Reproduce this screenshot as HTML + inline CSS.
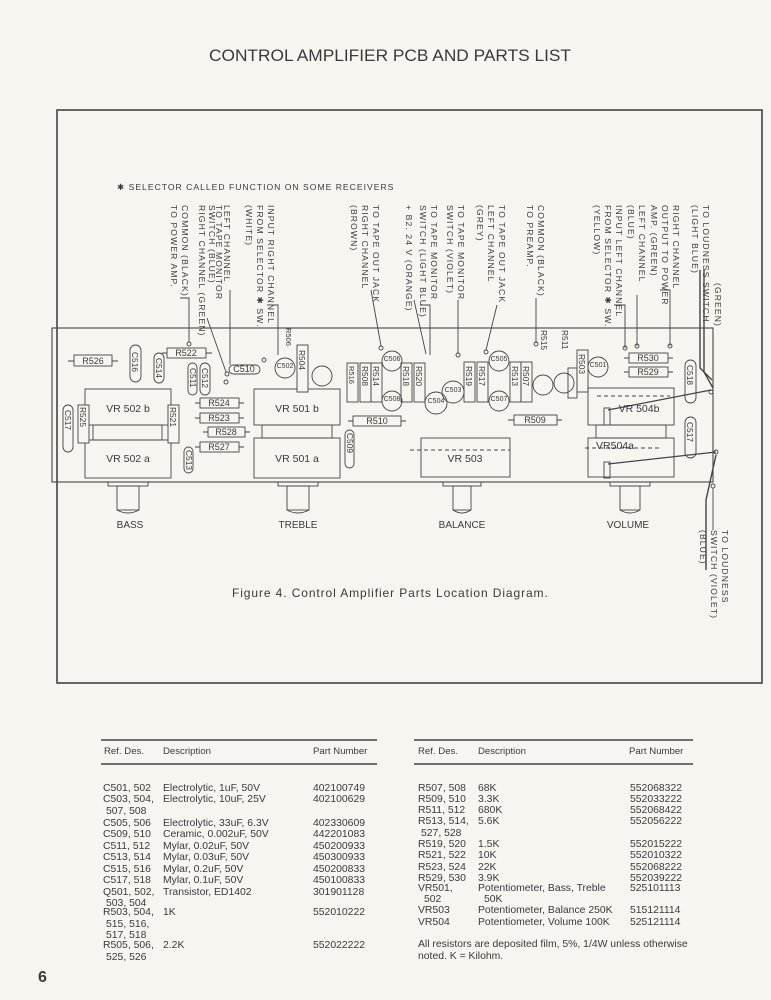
<!DOCTYPE html>
<html><head><meta charset="utf-8"><style>
html,body{margin:0;padding:0;background:#f6f5f0}
svg{display:block}
text{font-family:"Liberation Sans",sans-serif;fill:#3a3a3a}
.v{font-size:8.6px;letter-spacing:1.1px}
.c{font-size:9px;text-anchor:middle}
.t{font-size:10.4px}
.h{font-size:9.6px}
</style></head><body>
<svg width="771" height="1000" viewBox="0 0 771 1000" xmlns="http://www.w3.org/2000/svg">
<text x="390" y="61" text-anchor="middle" font-size="17" textLength="362" lengthAdjust="spacingAndGlyphs">CONTROL AMPLIFIER PCB AND PARTS LIST</text>
<rect x="57" y="110" width="705" height="573" fill="none" stroke="#444" stroke-width="1.6"/>
<text x="117" y="190" font-size="8.6" letter-spacing="1">✱ SELECTOR CALLED FUNCTION ON SOME RECEIVERS</text>

<g class="v">
<text transform="translate(171,205) rotate(90)">TO POWER AMP.</text>
<text transform="translate(182,205) rotate(90)">COMMON (BLACK)</text>
<text transform="translate(199,205) rotate(90)">RIGHT CHANNEL (GREEN)</text>
<text transform="translate(209,205) rotate(90)">SWITCH (BLUE)</text>
<text transform="translate(216,205) rotate(90)">TO TAPE MONITOR</text>
<text transform="translate(224,205) rotate(90)">LEFT CHANNEL</text>
<text transform="translate(246,205) rotate(90)">(WHITE)</text>
<text transform="translate(257,205) rotate(90)">FROM SELECTOR ✱ SW.</text>
<text transform="translate(268,205) rotate(90)">INPUT RIGHT CHANNEL</text>
<text transform="translate(351,205) rotate(90)">(BROWN)</text>
<text transform="translate(362,205) rotate(90)">RIGHT CHANNEL</text>
<text transform="translate(373,205) rotate(90)">TO TAPE OUT JACK</text>
<text transform="translate(406,205) rotate(90)">+ B2. 24 V (ORANGE)</text>
<text transform="translate(420,205) rotate(90)">SWITCH (LIGHT BLUE)</text>
<text transform="translate(431,205) rotate(90)">TO TAPE MONITOR</text>
<text transform="translate(447,205) rotate(90)">SWITCH (VIOLET)</text>
<text transform="translate(458,205) rotate(90)">TO TAPE MONITOR</text>
<text transform="translate(477,205) rotate(90)">(GREY)</text>
<text transform="translate(488,205) rotate(90)">LEFT CHANNEL</text>
<text transform="translate(499,205) rotate(90)">TO TAPE OUT JACK</text>
<text transform="translate(527,205) rotate(90)">TO PREAMP.</text>
<text transform="translate(538,205) rotate(90)">COMMON (BLACK)</text>
<text transform="translate(594,205) rotate(90)">(YELLOW)</text>
<text transform="translate(605,205) rotate(90)">FROM SELECTOR ✱ SW.</text>
<text transform="translate(616,205) rotate(90)">INPUT LEFT CHANNEL</text>
<text transform="translate(628,205) rotate(90)">(BLUE)</text>
<text transform="translate(639,205) rotate(90)">LEFT CHANNEL</text>
<text transform="translate(651,205) rotate(90)">AMP. (GREEN)</text>
<text transform="translate(662,205) rotate(90)">OUTPUT TO POWER</text>
<text transform="translate(673,205) rotate(90)">RIGHT CHANNEL</text>
<text transform="translate(692,205) rotate(90)">(LIGHT BLUE)</text>
<text transform="translate(703,205) rotate(90)">TO LOUDNESS SWITCH</text>
<text transform="translate(715,283) rotate(90)">(GREEN)</text>
<text transform="translate(700,530) rotate(90)">(BLUE)</text>
<text transform="translate(711,530) rotate(90)">SWITCH (VIOLET)</text>
<text transform="translate(722,530) rotate(90)">TO LOUDNESS</text>
</g>

<g stroke="#444" stroke-width="0.9" fill="none">
<!-- leaders -->
<path d="M180,298 H189 V342"/><circle cx="189" cy="344" r="2"/>
<path d="M207,318 L226,372"/><circle cx="227" cy="374" r="2"/>
<path d="M230,290 V365"/><circle cx="226" cy="382" r="2"/>
<path d="M267,305 H278 V355"/><circle cx="264" cy="360" r="2"/>
<path d="M371,290 L381,346"/><circle cx="381" cy="348" r="2"/>
<path d="M414,300 L426,354"/>
<path d="M420,305 H430 V355"/>
<path d="M458,300 V353"/><circle cx="458" cy="355" r="2"/>
<path d="M497,305 L486,350"/><circle cx="486" cy="352" r="2"/>
<path d="M536,298 V343"/><circle cx="536" cy="344" r="2"/>
<path d="M614,305 H625 V348"/><circle cx="625" cy="348" r="2"/>
<path d="M637,295 V346"/><circle cx="637" cy="346" r="2"/>
<path d="M660,290 H670 V346"/><circle cx="670" cy="346" r="2"/>
<path d="M700,270 V368 L712,380" stroke-width="1.4"/>
<path d="M704,270 V372 L713,388" stroke-width="1.4"/>
<circle cx="711" cy="392" r="2"/>
<path d="M716,455 L706,500 V570" stroke-width="1.4"/>
<circle cx="716" cy="452" r="2"/>
<path d="M713,488 V530"/><circle cx="713" cy="486" r="2"/>
<!-- board -->
<rect x="52" y="328" width="661" height="154" stroke-width="1.1"/>
<!-- R526 -->
<path d="M68,361 H118"/><rect x="74" y="355" width="38" height="11" fill="#f6f5f0"/>
<!-- caps ovals -->
<rect x="130" y="345" width="11" height="37" rx="5.5"/>
<rect x="154" y="353" width="10" height="30" rx="5"/>
<rect x="188" y="363" width="9" height="32" rx="4.5"/>
<rect x="200" y="363" width="10" height="32" rx="5"/>
<rect x="229" y="365" width="31" height="9" rx="4.5"/>
<rect x="63" y="405" width="10" height="47" rx="5"/>
<rect x="184" y="447" width="9" height="26" rx="4.5"/>
<rect x="345" y="430" width="9" height="38" rx="4.5"/>
<rect x="685" y="360" width="11" height="43" rx="5.5"/>
<rect x="685" y="417" width="11" height="41" rx="5.5"/>
<!-- R522 -->
<path d="M162,353 H212"/><rect x="167" y="348" width="39" height="10" fill="#f6f5f0"/>
<!-- R524,523,528,527 -->
<path d="M195,403 H244 M195,418 H244 M203,432 H250 M195,447 H244"/>
<rect x="200" y="398" width="39" height="10" fill="#f6f5f0"/>
<rect x="200" y="413" width="39" height="10" fill="#f6f5f0"/>
<rect x="208" y="427" width="37" height="10" fill="#f6f5f0"/>
<rect x="200" y="442" width="39" height="10" fill="#f6f5f0"/>
<!-- VR502 -->
<rect x="85" y="389" width="86" height="36"/>
<rect x="93" y="425" width="69" height="15"/>
<rect x="85" y="440" width="86" height="38"/>
<rect x="78" y="405" width="11" height="38" fill="#f6f5f0"/>
<rect x="168" y="405" width="11" height="38" fill="#f6f5f0"/>
<!-- VR501 -->
<rect x="254" y="389" width="86" height="36"/>
<rect x="262" y="425" width="70" height="13"/>
<rect x="254" y="438" width="86" height="40"/>
<!-- middle small parts -->
<circle cx="285" cy="368" r="10"/>
<rect x="297" y="345" width="11" height="47" fill="#f6f5f0"/>
<circle cx="322" cy="376" r="10"/>
<rect x="347" y="363" width="11" height="39"/>
<rect x="360" y="363" width="11" height="39"/>
<rect x="371" y="363" width="11" height="39"/>
<circle cx="392" cy="361" r="10"/><circle cx="392" cy="401" r="10"/>
<rect x="401" y="363" width="11" height="39"/>
<rect x="414" y="363" width="11" height="39"/>
<circle cx="436" cy="403" r="11"/><circle cx="453" cy="392" r="11"/>
<rect x="464" y="362" width="11" height="40"/>
<rect x="477" y="362" width="11" height="40"/>
<circle cx="499" cy="361" r="10"/><circle cx="499" cy="401" r="10"/>
<rect x="510" y="362" width="11" height="40"/>
<rect x="521" y="362" width="11" height="40"/>
<circle cx="543" cy="385" r="10"/><circle cx="564" cy="383" r="10"/>
<rect x="568" y="368" width="9" height="30"/>
<rect x="577" y="350" width="11" height="42" fill="#f6f5f0"/>
<circle cx="598" cy="367" r="10"/>
<path d="M348,421 H406 M508,420 H562"/>
<rect x="353" y="416" width="48" height="10" fill="#f6f5f0"/>
<rect x="514" y="415" width="43" height="10" fill="#f6f5f0"/>
<!-- VR503 -->
<rect x="421" y="438" width="89" height="39"/>
<path d="M410,450 H510" stroke-dasharray="4,3"/>
<!-- R530/529 -->
<path d="M624,358 H673 M624,372 H673"/>
<rect x="629" y="353" width="39" height="10" fill="#f6f5f0"/>
<rect x="629" y="367" width="39" height="10" fill="#f6f5f0"/>
<!-- VR504 -->
<rect x="588" y="388" width="86" height="37"/>
<rect x="596" y="425" width="70" height="13"/>
<rect x="588" y="438" width="86" height="39"/>
<path d="M597,396 H670 M585,448 H660" stroke-dasharray="4,3"/>
<rect x="604" y="408" width="6" height="17"/><rect x="604" y="462" width="6" height="16"/>
<path d="M608,410 L711,390 M608,464 L716,452" stroke-width="1.3"/>
<!-- knobs -->
<g>
<rect x="108" y="482" width="40" height="4"/><rect x="117" y="486" width="22" height="24"/><path d="M117,510 q11,6 22,0"/>
<rect x="278" y="482" width="40" height="4"/><rect x="287" y="486" width="22" height="24"/><path d="M287,510 q11,6 22,0"/>
<rect x="443" y="482" width="38" height="4"/><rect x="453" y="486" width="18" height="24"/><path d="M453,510 q9,6 18,0"/>
<rect x="610" y="482" width="40" height="4"/><rect x="620" y="486" width="20" height="24"/><path d="M620,510 q10,6 20,0"/>
</g>
</g>

<g class="c">
<text x="93" y="364">R526</text>
<text x="186" y="356">R522</text>
<text x="244" y="372">C510</text>
<text x="128" y="412" font-size="10.5">VR 502 b</text>
<text x="128" y="462" font-size="10.5">VR 502 a</text>
<text x="297" y="412" font-size="10.5">VR 501 b</text>
<text x="297" y="462" font-size="10.5">VR 501 a</text>
<text x="465" y="462" font-size="10.5">VR 503</text>
<text x="639" y="412" font-size="10.5">VR 504b</text>
<text x="615" y="449" font-size="10.5">VR504a</text>
<text x="219" y="406">R524</text><text x="219" y="421">R523</text>
<text x="226" y="435">R528</text><text x="219" y="450">R527</text>
<text x="377" y="424">R510</text><text x="535" y="423">R509</text>
<text x="648" y="361">R530</text><text x="648" y="375">R529</text>
<text x="285" y="368" font-size="7">C502</text>
<text x="392" y="361" font-size="7">C506</text><text x="392" y="401" font-size="7">C508</text>
<text x="436" y="403" font-size="7">C504</text><text x="453" y="392" font-size="7">C503</text>
<text x="499" y="361" font-size="7">C505</text><text x="499" y="401" font-size="7">C507</text>
<text x="598" y="367" font-size="7">C501</text>
<text x="130" y="528" font-size="10">BASS</text>
<text x="298" y="528" font-size="10">TREBLE</text>
<text x="462" y="528" font-size="10">BALANCE</text>
<text x="628" y="528" font-size="10">VOLUME</text>
</g>
<g font-size="8.4" class="">
<text transform="translate(132,352) rotate(90)">C516</text>
<text transform="translate(156,358) rotate(90)">C514</text>
<text transform="translate(190,368) rotate(90)">C511</text>
<text transform="translate(202,368) rotate(90)">C512</text>
<text transform="translate(65,410) rotate(90)">C517</text>
<text transform="translate(186,450) rotate(90)">C513</text>
<text transform="translate(347,433) rotate(90)">C509</text>
<text transform="translate(687,365) rotate(90)">C518</text>
<text transform="translate(687,422) rotate(90)">C517</text>
<text transform="translate(80,407) rotate(90)">R525</text>
<text transform="translate(170,407) rotate(90)">R521</text>
<text transform="translate(299,350) rotate(90)">R504</text>
<text transform="translate(349,366) rotate(90)" font-size="7.5">R516</text>
<text transform="translate(362,366) rotate(90)">R508</text>
<text transform="translate(373,366) rotate(90)">R514</text>
<text transform="translate(403,366) rotate(90)">R518</text>
<text transform="translate(416,366) rotate(90)">R520</text>
<text transform="translate(466,366) rotate(90)">R519</text>
<text transform="translate(479,366) rotate(90)">R517</text>
<text transform="translate(512,366) rotate(90)">R513</text>
<text transform="translate(523,366) rotate(90)">R507</text>
<text transform="translate(579,354) rotate(90)">R503</text>
<text transform="translate(541,330) rotate(90)">R515</text>
<text transform="translate(562,330) rotate(90)">R511</text>
<text transform="translate(286,328) rotate(90)" font-size="7.5">R506</text>
</g>

<text x="232" y="597" font-size="12" letter-spacing="0.9">Figure 4.   Control Amplifier Parts Location Diagram.</text>

<!-- tables -->
<g stroke="#444">
<line x1="101" y1="740" x2="377" y2="740" stroke-width="1.4"/>
<line x1="101" y1="764" x2="377" y2="764" stroke-width="1.4"/>
<line x1="414" y1="740" x2="693" y2="740" stroke-width="1.4"/>
<line x1="414" y1="764" x2="693" y2="764" stroke-width="1.4"/>
</g>
<g class="h">
<text x="104" y="754">Ref. Des.</text><text x="163" y="754">Description</text><text x="313" y="754">Part Number</text>
<text x="418" y="754">Ref. Des.</text><text x="478" y="754">Description</text><text x="629" y="754">Part Number</text>
</g>
<g class="t">
<text x="103" y="791">C501, 502</text><text x="163" y="791">Electrolytic, 1uF, 50V</text><text x="313" y="791">402100749</text>
<text x="103" y="802">C503, 504,</text><text x="163" y="802">Electrolytic, 10uF, 25V</text><text x="313" y="802">402100629</text>
<text x="106" y="814">507, 508</text>
<text x="103" y="826">C505, 506</text><text x="163" y="826">Electrolytic, 33uF, 6.3V</text><text x="313" y="826">402330609</text>
<text x="103" y="837">C509, 510</text><text x="163" y="837">Ceramic, 0.002uF, 50V</text><text x="313" y="837">442201083</text>
<text x="103" y="849">C511, 512</text><text x="163" y="849">Mylar, 0.02uF, 50V</text><text x="313" y="849">450200933</text>
<text x="103" y="860">C513, 514</text><text x="163" y="860">Mylar, 0.03uF, 50V</text><text x="313" y="860">450300933</text>
<text x="103" y="872">C515, 516</text><text x="163" y="872">Mylar, 0.2uF, 50V</text><text x="313" y="872">450200833</text>
<text x="103" y="883">C517, 518</text><text x="163" y="883">Mylar, 0.1uF, 50V</text><text x="313" y="883">450100833</text>
<text x="103" y="895">Q501, 502,</text><text x="163" y="895">Transistor, ED1402</text><text x="313" y="895">301901128</text>
<text x="106" y="906">503, 504</text>
<text x="103" y="915">R503, 504,</text><text x="163" y="915">1K</text><text x="313" y="915">552010222</text>
<text x="106" y="927">515, 516,</text>
<text x="106" y="938">517, 518</text>
<text x="103" y="948">R505, 506,</text><text x="163" y="948">2.2K</text><text x="313" y="948">552022222</text>
<text x="106" y="960">525, 526</text>

<text x="418" y="791">R507, 508</text><text x="478" y="791">68K</text><text x="630" y="791">552068322</text>
<text x="418" y="802">R509, 510</text><text x="478" y="802">3.3K</text><text x="630" y="802">552033222</text>
<text x="418" y="813">R511, 512</text><text x="478" y="813">680K</text><text x="630" y="813">552068422</text>
<text x="418" y="824">R513, 514,</text><text x="478" y="824">5.6K</text><text x="630" y="824">552056222</text>
<text x="421" y="836">527, 528</text>
<text x="418" y="847">R519, 520</text><text x="478" y="847">1.5K</text><text x="630" y="847">552015222</text>
<text x="418" y="858">R521, 522</text><text x="478" y="858">10K</text><text x="630" y="858">552010322</text>
<text x="418" y="870">R523, 524</text><text x="478" y="870">22K</text><text x="630" y="870">552068222</text>
<text x="418" y="881">R529, 530</text><text x="478" y="881">3.9K</text><text x="630" y="881">552039222</text>
<text x="418" y="891">VR501,</text><text x="478" y="891">Potentiometer, Bass, Treble</text><text x="630" y="891">525101113</text>
<text x="424" y="902">502</text><text x="484" y="902">50K</text>
<text x="418" y="913">VR503</text><text x="478" y="913">Potentiometer, Balance 250K</text><text x="630" y="913">515121114</text>
<text x="418" y="925">VR504</text><text x="478" y="925">Potentiometer, Volume 100K</text><text x="630" y="925">525121114</text>
<text x="418" y="947">All resistors are deposited film, 5%, 1/4W unless otherwise</text>
<text x="418" y="959">noted.  K = Kilohm.</text>
</g>
<text x="38" y="982" font-size="16" font-weight="bold">6</text>
</svg>
</body></html>
